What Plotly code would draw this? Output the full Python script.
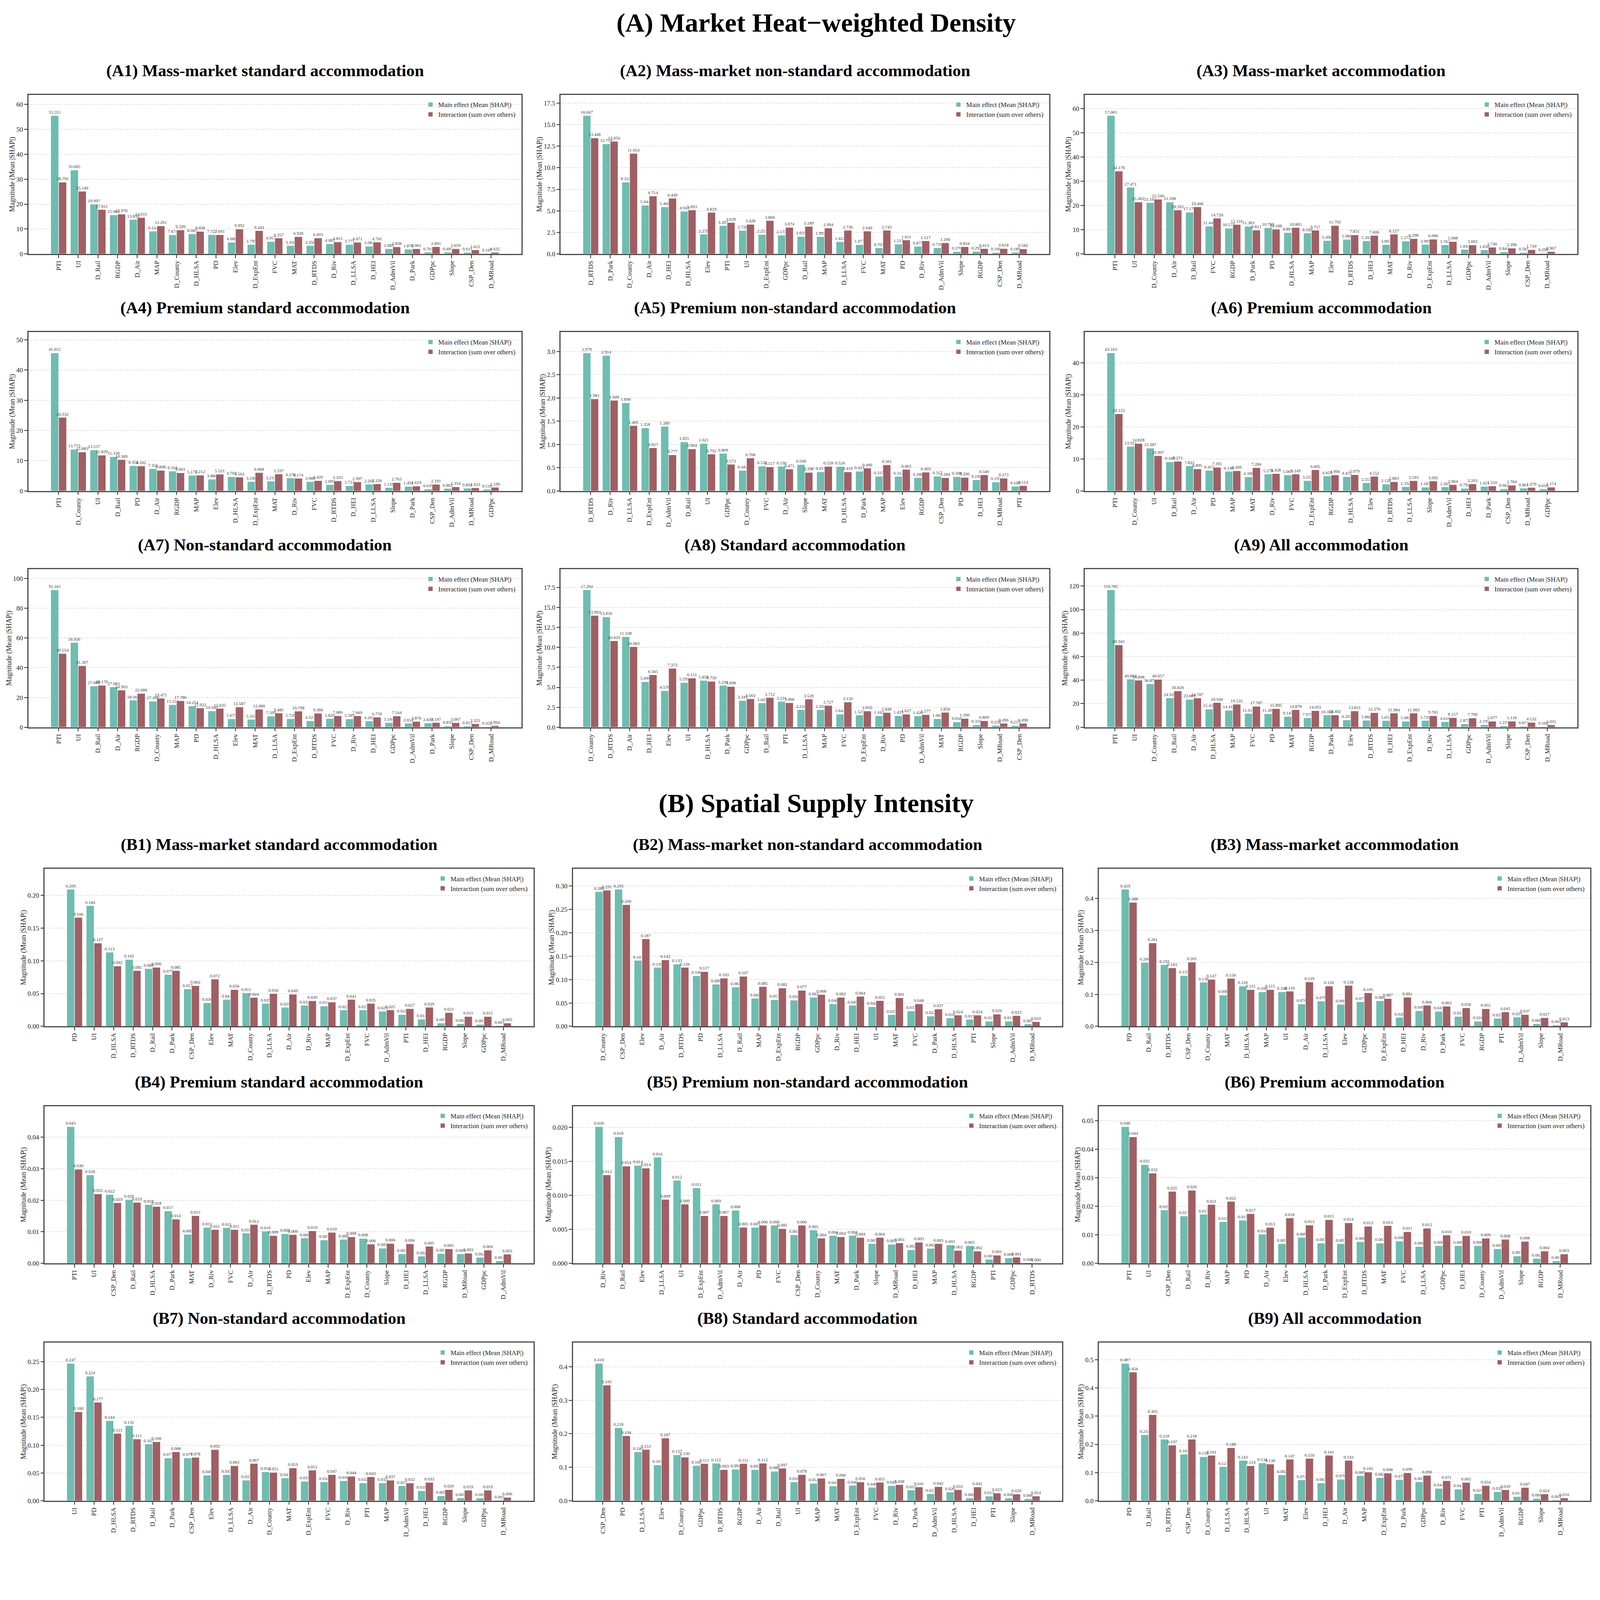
import plotly.graph_objects as go

# page geometry: the browser shows the page slightly scaled (device px = K * css px)
# and the body keeps its default 8px margin
# ---------------------------------------------------------------------------
K = 1.0603
BODY = 8
FW, FH = 4070, 3940
TEAL = '#6dbdb0'
RED = '#a05f63'
FONT = 'Liberation Serif'

def fx(px):
    return (px / K - BODY) / FW

def fy(px):
    return 1 - (px / K - BODY) / FH

def fs(px):
    return px / K

# (A) Market heat-weighted density
# --------------------------------
a1_features = ['PTI', 'UI', 'D_Rail', 'RGDP', 'D_Air', 'MAP', 'D_County', 'D_HLSA', 'PD', 'Elev', 'D_ExpEnt', 'FVC',
               'MAT', 'D_RTDS', 'D_Riv', 'D_LLSA', 'D_HEI', 'D_AdmVil', 'D_Park', 'GDPpc', 'Slope', 'CSP_Den', 'D_MRoad']
a1_main = [55.551, 33.665, 19.997, 15.662, 13.830, 9.134, 7.674, 8.065, 7.722, 4.688, 3.795, 4.957,
           3.356, 3.358, 4.081, 3.771, 3.082, 2.083, 1.876, 0.703, 0.695, 0.631, 0.167]
a1_inter = [28.791, 25.146, 17.811, 15.976, 14.615, 11.261, 9.599, 9.038, 7.691, 9.992, 9.343, 6.357,
            6.920, 6.403, 4.815, 4.671, 4.741, 2.838, 2.061, 2.891, 2.059, 1.621, 0.635]

a2_features = ['D_RTDS', 'D_Park', 'D_County', 'D_Air', 'D_HEI', 'D_HLSA', 'Elev', 'PTI', 'UI', 'D_ExpEnt', 'GDPpc',
               'D_Rail', 'MAP', 'D_LLSA', 'FVC', 'MAT', 'PD', 'D_Riv', 'D_AdmVil', 'Slope', 'RGDP', 'CSP_Den', 'D_MRoad']
a2_main = [16.047, 12.758, 8.324, 5.644, 5.460, 4.941, 2.278, 3.287, 2.726, 2.251, 2.173,
           2.025, 1.997, 1.422, 1.077, 0.701, 1.137, 0.877, 0.720, 0.270, 0.292, 0.168, 0.189]
a2_inter = [13.448, 13.056, 11.654, 6.714, 6.449, 5.093, 4.819, 3.639, 3.428, 3.866, 3.074,
            3.189, 2.994, 2.736, 2.646, 2.743, 1.611, 1.517, 1.290, 0.834, 0.613, 0.618, 0.582]

a3_features = ['PTI', 'UI', 'D_County', 'D_Air', 'D_Rail', 'FVC', 'RGDP', 'D_Park', 'PD', 'D_HLSA', 'MAP', 'Elev',
               'D_RTDS', 'D_HEI', 'MAT', 'D_Riv', 'D_ExpEnt', 'D_LLSA', 'GDPpc', 'D_AdmVil', 'Slope', 'CSP_Den', 'D_MRoad']
a3_main = [57.065, 27.471, 21.162, 21.398, 17.175, 11.444, 10.577, 11.383, 10.789, 8.801, 8.592, 5.496,
           5.988, 5.392, 3.863, 5.272, 3.909, 3.762, 1.847, 1.658, 0.844, 0.581, 0.290]
a3_inter = [34.170, 21.402, 22.546, 18.101, 19.406, 14.720, 12.116, 9.821, 10.188, 10.865, 9.757, 11.702,
            7.831, 7.606, 8.127, 6.298, 6.066, 5.088, 3.692, 2.746, 2.396, 1.749, 0.967]

a4_features = ['PTI', 'D_County', 'UI', 'D_Rail', 'PD', 'D_Air', 'RGDP', 'MAP', 'Elev', 'D_HLSA', 'D_ExpEnt', 'MAT',
               'D_Riv', 'FVC', 'D_RTDS', 'D_HEI', 'D_LLSA', 'Slope', 'D_Park', 'CSP_Den', 'D_AdmVil', 'D_MRoad', 'GDPpc']
a4_main = [45.655, 13.773, 13.557, 11.330, 8.354, 7.356, 6.564, 5.172, 3.880, 4.703, 3.108, 3.237,
           4.278, 3.086, 2.095, 1.724, 2.201, 1.118, 1.493, 0.639, 0.802, 0.892, 0.516]
a4_inter = [24.332, 12.883, 11.829, 10.369, 8.262, 6.808, 6.001, 5.212, 5.521, 4.563, 6.068, 5.597,
            4.174, 3.420, 3.333, 2.997, 2.326, 2.763, 1.619, 2.191, 1.354, 1.033, 1.199]

a5_features = ['D_RTDS', 'D_Riv', 'D_LLSA', 'D_ExpEnt', 'D_AdmVil', 'D_Rail', 'UI', 'GDPpc', 'D_County', 'FVC', 'D_Air',
               'Slope', 'MAT', 'D_HLSA', 'D_Park', 'MAP', 'Elev', 'RGDP', 'CSP_Den', 'PD', 'D_HEI', 'D_MRoad', 'PTI']
a5_main = [2.970, 2.914, 1.896, 1.358, 1.389, 1.055, 1.021, 0.809, 0.441, 0.535, 0.530,
           0.568, 0.411, 0.526, 0.424, 0.315, 0.312, 0.288, 0.317, 0.308, 0.240, 0.193, 0.100]
a5_inter = [1.981, 1.949, 1.405, 0.927, 0.777, 0.904, 0.792, 0.573, 0.708, 0.517, 0.471,
            0.398, 0.528, 0.410, 0.490, 0.561, 0.463, 0.403, 0.284, 0.290, 0.346, 0.273, 0.114]

a6_features = ['PTI', 'D_County', 'UI', 'D_Rail', 'D_Air', 'PD', 'MAP', 'MAT', 'D_Riv', 'FVC', 'D_ExpEnt', 'RGDP',
               'D_HLSA', 'Elev', 'D_RTDS', 'D_LLSA', 'Slope', 'D_AdmVil', 'D_HEI', 'D_Park', 'CSP_Den', 'D_MRoad', 'GDPpc']
a6_main = [43.163, 13.921, 13.387, 9.109, 7.822, 6.413, 6.140, 4.398, 5.278, 5.007, 3.233, 4.651,
           4.455, 2.557, 2.128, 1.332, 1.187, 1.263, 0.792, 1.421, 0.662, 0.861, 0.618]
a6_inter = [24.122, 14.828, 10.997, 9.271, 6.895, 7.391, 6.309, 7.284, 5.428, 5.249, 6.605, 4.990,
            5.079, 4.552, 2.883, 3.193, 3.095, 1.964, 2.203, 1.550, 1.784, 1.076, 1.174]

a7_features = ['PTI', 'UI', 'D_Rail', 'D_Air', 'RGDP', 'D_County', 'MAP', 'PD', 'D_HLSA', 'Elev', 'MAT', 'D_LLSA',
               'D_ExpEnt', 'D_RTDS', 'FVC', 'D_Riv', 'D_HEI', 'GDPpc', 'D_AdmVil', 'D_Park', 'Slope', 'CSP_Den', 'D_MRoad']
a7_main = [92.341, 56.926, 27.686, 27.083, 18.167, 17.498, 15.159, 14.254, 10.944, 5.673, 5.310, 7.509,
           5.726, 4.323, 5.820, 5.589, 4.202, 3.104, 2.654, 2.849, 0.850, 0.813, 0.352]
a7_inter = [49.554, 41.307, 28.170, 24.903, 22.686, 19.475, 17.786, 12.922, 12.635, 13.587, 12.080, 9.485,
            10.798, 9.386, 7.686, 7.669, 6.750, 7.544, 3.876, 3.147, 3.067, 2.321, 1.094]

a8_features = ['D_County', 'D_RTDS', 'D_Air', 'D_HEI', 'Elev', 'UI', 'D_HLSA', 'D_Park', 'GDPpc', 'D_Rail', 'PTI',
               'D_LLSA', 'MAP', 'FVC', 'D_ExpEnt', 'D_Riv', 'PD', 'D_AdmVil', 'MAT', 'RGDP', 'Slope', 'D_MRoad', 'CSP_Den']
a8_main = [17.204, 13.816, 11.338, 5.696, 4.578, 5.595, 5.858, 5.236, 3.343, 3.043, 3.231,
           2.210, 2.192, 1.642, 1.527, 1.442, 1.433, 1.420, 1.065, 0.658, 0.310, 0.228, 0.213]
a8_inter = [13.993, 10.819, 10.083, 6.565, 7.373, 6.151, 5.750, 5.098, 3.563, 3.712, 3.068,
            3.520, 2.727, 3.150, 2.033, 1.840, 1.627, 1.577, 1.856, 1.100, 0.809, 0.496, 0.490]

a9_features = ['PTI', 'UI', 'D_County', 'D_Rail', 'D_Air', 'D_HLSA', 'MAP', 'FVC', 'PD', 'MAT', 'RGDP', 'D_Park',
               'Elev', 'D_RTDS', 'D_HEI', 'D_ExpEnt', 'D_Riv', 'D_LLSA', 'GDPpc', 'D_AdmVil', 'Slope', 'CSP_Den', 'D_MRoad']
a9_main = [116.785, 40.862, 36.875, 24.921, 23.669, 15.428, 14.418, 11.617, 11.491, 9.145, 7.975, 10.358,
           6.203, 5.868, 5.653, 5.083, 5.720, 4.610, 2.872, 2.195, 1.237, 0.873, 0.562]
a9_inter = [69.941, 39.898, 40.657, 30.820, 24.787, 20.946, 19.535, 17.787, 15.805, 14.878, 14.055, 10.402,
            13.821, 12.376, 11.984, 11.983, 9.765, 8.157, 7.799, 5.077, 5.118, 4.132, 2.035]

# (B) Spatial supply intensity
# ----------------------------
b1_features = ['PD', 'UI', 'D_HLSA', 'D_RTDS', 'D_Rail', 'D_Park', 'CSP_Den', 'Elev', 'MAT', 'D_County', 'D_LLSA',
               'D_Air', 'D_Riv', 'MAP', 'D_ExpEnt', 'FVC', 'D_AdmVil', 'PTI', 'D_HEI', 'RGDP', 'Slope', 'GDPpc', 'D_MRoad']
b1_main = [0.209, 0.184, 0.113, 0.102, 0.088, 0.079, 0.057, 0.036, 0.041, 0.051, 0.035,
           0.029, 0.032, 0.031, 0.025, 0.025, 0.023, 0.018, 0.011, 0.005, 0.004, 0.003, 0.001]
b1_inter = [0.166, 0.127, 0.092, 0.085, 0.090, 0.085, 0.062, 0.072, 0.056, 0.044, 0.050,
            0.049, 0.039, 0.037, 0.041, 0.035, 0.025, 0.027, 0.029, 0.021, 0.015, 0.015, 0.005]

b2_features = ['D_County', 'CSP_Den', 'Elev', 'D_Air', 'D_RTDS', 'PD', 'D_LLSA', 'D_Rail', 'MAP', 'D_ExpEnt', 'RGDP',
               'GDPpc', 'D_Riv', 'D_HEI', 'UI', 'MAT', 'FVC', 'D_Park', 'D_HLSA', 'PTI', 'Slope', 'D_AdmVil', 'D_MRoad']
b2_main = [0.288, 0.293, 0.141, 0.126, 0.133, 0.108, 0.090, 0.084, 0.060, 0.057, 0.056,
           0.062, 0.048, 0.045, 0.042, 0.025, 0.033, 0.022, 0.018, 0.015, 0.011, 0.011, 0.005]
b2_inter = [0.291, 0.260, 0.187, 0.142, 0.126, 0.117, 0.103, 0.107, 0.085, 0.082, 0.077,
            0.068, 0.062, 0.064, 0.055, 0.061, 0.048, 0.037, 0.024, 0.024, 0.026, 0.023, 0.010]

b3_features = ['PD', 'D_Rail', 'D_RTDS', 'CSP_Den', 'D_County', 'MAT', 'D_HLSA', 'MAP', 'UI', 'D_Air', 'D_LLSA', 'Elev',
               'GDPpc', 'D_ExpEnt', 'D_HEI', 'D_Riv', 'D_Park', 'FVC', 'RGDP', 'PTI', 'D_AdmVil', 'Slope', 'D_MRoad']
b3_main = [0.429, 0.200, 0.193, 0.159, 0.138, 0.098, 0.126, 0.108, 0.108, 0.070, 0.079, 0.069,
           0.077, 0.080, 0.028, 0.049, 0.047, 0.031, 0.016, 0.025, 0.029, 0.008, 0.004]
b3_inter = [0.388, 0.261, 0.183, 0.201, 0.147, 0.150, 0.115, 0.115, 0.110, 0.139, 0.126, 0.128,
            0.105, 0.087, 0.091, 0.066, 0.063, 0.058, 0.055, 0.045, 0.037, 0.027, 0.013]

b4_features = ['PTI', 'UI', 'CSP_Den', 'D_Rail', 'D_HLSA', 'D_Park', 'MAT', 'D_Riv', 'FVC', 'D_Air', 'D_RTDS', 'PD',
               'Elev', 'MAP', 'D_ExpEnt', 'D_County', 'Slope', 'D_HEI', 'D_LLSA', 'RGDP', 'D_MRoad', 'GDPpc', 'D_AdmVil']
b4_main = [0.0433, 0.0280, 0.0218, 0.0202, 0.0186, 0.0166, 0.0092, 0.0114, 0.0113, 0.0096, 0.0102, 0.0094,
           0.0080, 0.0074, 0.0076, 0.0079, 0.0048, 0.0030, 0.0023, 0.0031, 0.0030, 0.0019, 0.0008]
b4_inter = [0.0298, 0.0220, 0.0192, 0.0193, 0.0180, 0.0140, 0.0151, 0.0107, 0.0107, 0.0123, 0.0088, 0.0091,
            0.0103, 0.0098, 0.0084, 0.0061, 0.0063, 0.0062, 0.0054, 0.0046, 0.0032, 0.0042, 0.0029]

b5_features = ['D_Riv', 'D_Rail', 'Elev', 'D_LLSA', 'UI', 'D_ExpEnt', 'D_AdmVil', 'D_Air', 'PD', 'FVC', 'CSP_Den',
               'D_County', 'MAT', 'D_Park', 'Slope', 'D_MRoad', 'D_HEI', 'MAP', 'D_HLSA', 'RGDP', 'PTI', 'GDPpc', 'D_RTDS']
b5_main = [0.0201, 0.0186, 0.0144, 0.0156, 0.0122, 0.0111, 0.0087, 0.0078, 0.0053, 0.0056, 0.0042,
           0.0049, 0.0041, 0.0041, 0.0029, 0.0028, 0.0020, 0.0022, 0.0027, 0.0026, 0.0006, 0.0008, 0.0001]
b5_inter = [0.0130, 0.0143, 0.0140, 0.0094, 0.0087, 0.0070, 0.0070, 0.0053, 0.0056, 0.0051, 0.0056,
            0.0037, 0.0039, 0.0038, 0.0038, 0.0030, 0.0031, 0.0029, 0.0019, 0.0018, 0.0012, 0.0009, 0.0000]

b6_features = ['PTI', 'UI', 'CSP_Den', 'D_Rail', 'D_Riv', 'MAP', 'PD', 'D_Air', 'Elev', 'D_HLSA', 'D_Park', 'D_ExpEnt',
               'D_RTDS', 'MAT', 'FVC', 'D_LLSA', 'GDPpc', 'D_HEI', 'D_County', 'D_AdmVil', 'Slope', 'RGDP', 'D_MRoad']
b6_main = [0.0479, 0.0346, 0.0187, 0.0166, 0.0172, 0.0146, 0.0151, 0.0102, 0.0069, 0.0091, 0.0071, 0.0069,
           0.0076, 0.0071, 0.0078, 0.0059, 0.0062, 0.0062, 0.0062, 0.0051, 0.0026, 0.0017, 0.0009]
b6_inter = [0.0443, 0.0316, 0.0252, 0.0256, 0.0206, 0.0217, 0.0174, 0.0126, 0.0159, 0.0134, 0.0153, 0.0142,
            0.0130, 0.0132, 0.0111, 0.0123, 0.0099, 0.0097, 0.0088, 0.0084, 0.0077, 0.0043, 0.0033]

b7_features = ['UI', 'PD', 'D_HLSA', 'D_RTDS', 'D_Rail', 'D_Park', 'CSP_Den', 'Elev', 'D_LLSA', 'D_Air', 'D_County',
               'MAT', 'D_ExpEnt', 'FVC', 'D_Riv', 'PTI', 'MAP', 'D_AdmVil', 'D_HEI', 'RGDP', 'Slope', 'GDPpc', 'D_MRoad']
b7_main = [0.247, 0.224, 0.144, 0.135, 0.102, 0.077, 0.077, 0.046, 0.047, 0.037, 0.052,
           0.041, 0.035, 0.034, 0.036, 0.032, 0.032, 0.027, 0.018, 0.009, 0.005, 0.005, 0.001]
b7_inter = [0.160, 0.177, 0.121, 0.111, 0.106, 0.088, 0.078, 0.092, 0.063, 0.067, 0.051,
            0.059, 0.055, 0.047, 0.044, 0.043, 0.037, 0.032, 0.033, 0.020, 0.019, 0.019, 0.006]

b8_features = ['CSP_Den', 'PD', 'D_LLSA', 'Elev', 'D_County', 'GDPpc', 'D_RTDS', 'RGDP', 'D_Air', 'D_Rail', 'UI', 'MAP',
               'MAT', 'D_ExpEnt', 'FVC', 'D_Riv', 'D_Park', 'D_AdmVil', 'D_HLSA', 'D_HEI', 'PTI', 'Slope', 'D_MRoad']
b8_main = [0.410, 0.218, 0.146, 0.107, 0.137, 0.105, 0.112, 0.094, 0.093, 0.088, 0.056, 0.052,
           0.044, 0.046, 0.040, 0.045, 0.032, 0.021, 0.026, 0.008, 0.014, 0.008, 0.006]
b8_inter = [0.345, 0.194, 0.153, 0.187, 0.130, 0.111, 0.093, 0.111, 0.112, 0.097, 0.078, 0.067,
            0.066, 0.056, 0.055, 0.048, 0.041, 0.042, 0.033, 0.041, 0.023, 0.020, 0.014]

b9_features = ['PD', 'D_Rail', 'D_RTDS', 'CSP_Den', 'D_County', 'D_LLSA', 'D_HLSA', 'UI', 'MAT', 'Elev', 'D_HEI', 'D_Air',
               'MAP', 'D_ExpEnt', 'D_Park', 'GDPpc', 'D_Riv', 'FVC', 'PTI', 'D_AdmVil', 'RGDP', 'Slope', 'D_MRoad']
b9_main = [0.487, 0.234, 0.218, 0.165, 0.156, 0.121, 0.143, 0.134, 0.092, 0.074, 0.063, 0.076,
           0.089, 0.082, 0.075, 0.067, 0.044, 0.041, 0.025, 0.032, 0.015, 0.008, 0.003]
b9_inter = [0.456, 0.305, 0.197, 0.218, 0.161, 0.188, 0.124, 0.130, 0.147, 0.150, 0.161, 0.143,
            0.102, 0.098, 0.099, 0.090, 0.071, 0.065, 0.054, 0.039, 0.047, 0.024, 0.010]

# panel list: title, data, y tick step, y tick format
# ---------------------------------------------------
panels = [
    ('(A1) Mass-market standard accommodation', a1_features, a1_main, a1_inter, 10, '.0f'),
    ('(A2) Mass-market non-standard accommodation', a2_features, a2_main, a2_inter, 2.5, '.1f'),
    ('(A3) Mass-market accommodation', a3_features, a3_main, a3_inter, 10, '.0f'),
    ('(A4) Premium standard accommodation', a4_features, a4_main, a4_inter, 10, '.0f'),
    ('(A5) Premium non-standard accommodation', a5_features, a5_main, a5_inter, 0.5, '.1f'),
    ('(A6) Premium accommodation', a6_features, a6_main, a6_inter, 10, '.0f'),
    ('(A7) Non-standard accommodation', a7_features, a7_main, a7_inter, 20, '.0f'),
    ('(A8) Standard accommodation', a8_features, a8_main, a8_inter, 2.5, '.1f'),
    ('(A9) All accommodation', a9_features, a9_main, a9_inter, 20, '.0f'),
    ('(B1) Mass-market standard accommodation', b1_features, b1_main, b1_inter, 0.05, '.2f'),
    ('(B2) Mass-market non-standard accommodation', b2_features, b2_main, b2_inter, 0.05, '.2f'),
    ('(B3) Mass-market accommodation', b3_features, b3_main, b3_inter, 0.1, '.1f'),
    ('(B4) Premium standard accommodation', b4_features, b4_main, b4_inter, 0.01, '.2f'),
    ('(B5) Premium non-standard accommodation', b5_features, b5_main, b5_inter, 0.005, '.3f'),
    ('(B6) Premium accommodation', b6_features, b6_main, b6_inter, 0.01, '.2f'),
    ('(B7) Non-standard accommodation', b7_features, b7_main, b7_inter, 0.05, '.2f'),
    ('(B8) Standard accommodation', b8_features, b8_main, b8_inter, 0.1, '.1f'),
    ('(B9) All accommodation', b9_features, b9_main, b9_inter, 0.1, '.1f'),
]

# plot-area boxes in screen pixels (top, bottom) / (left, right)
A_rows = [(258, 691), (904, 1336), (1549, 1979)]
B_rows = [(2364, 2793), (3010, 3438), (3654, 4084)]
A_cols = [(77, 1415), (1522, 2848), (2944, 4282)]
B_cols = [(121, 1448), (1555, 2883), (2983, 4317)]

fig = go.Figure()
layout = {}
annotations = []

for i, (title, feats, main, inter, step, fmt) in enumerate(panels):
    n = i + 1
    sfx = '' if n == 1 else str(n)
    leg = 'legend' if n == 1 else 'legend%d' % n
    r, c = divmod(i % 9, 3)
    top, bot = (A_rows if i < 9 else B_rows)[r]
    left, right = (A_cols if i < 9 else B_cols)[c]

    for name, vals, col, grp in [('Main effect (Mean |SHAP|)', main, TEAL, 'm'),
                                 ('Interaction (sum over others)', inter, RED, 'i')]:
        fig.add_trace(go.Bar(
            x=feats, y=vals, name=name, offsetgroup=grp,
            marker=dict(color=col, line=dict(color='white', width=1)),
            texttemplate='%{y:.3f}', textposition='outside', textangle=0,
            constraintext='none', cliponaxis=False,
            textfont=dict(size=fs(12), color='#333333', family=FONT),
            xaxis='x' + sfx, yaxis='y' + sfx, legend=leg, showlegend=True))

    ymax = 1.15 * max(max(main), max(inter))
    layout['xaxis' + sfx] = dict(
        domain=[fx(left), fx(right)], anchor='y' + sfx, type='category',
        categoryorder='array', categoryarray=feats,
        range=[-1.54, len(feats) - 1 + 1.54],
        tickangle=-90, ticks='outside', ticklen=fs(8), tickwidth=2, tickcolor='#333333',
        showline=True, linewidth=fs(3), linecolor='#4a4a4a', mirror=True, showgrid=False,
        tickfont=dict(size=fs(18), family=FONT, color='#222222'))
    layout['yaxis' + sfx] = dict(
        domain=[fy(bot), fy(top)], anchor='x' + sfx,
        range=[0, ymax], tick0=0, dtick=step, tickformat=fmt,
        ticks='outside', ticklen=fs(8), tickwidth=2, tickcolor='#333333',
        showline=True, linewidth=fs(3), linecolor='#4a4a4a', mirror=True,
        showgrid=True, gridcolor='#dadada', griddash='dot', gridwidth=1.5, zeroline=False,
        tickfont=dict(size=fs(18), family=FONT, color='#222222'),
        title=dict(text='Magnitude (Mean |SHAP|)', standoff=0,
                   font=dict(size=fs(19), family=FONT, color='#222222')))
    layout[leg] = dict(
        x=fx(right - 10), y=fy(top + 8), xanchor='right', yanchor='top',
        bgcolor='rgba(0,0,0,0)', tracegroupgap=0,
        font=dict(size=fs(18), family=FONT, color='#222222'))

    # panel titles sit a little left of the plot-area centre
    annotations.append(dict(
        text='<b>%s</b>' % title, x=fx((left + right) / 2 - 27), y=fy(top - 66),
        xref='paper', yref='paper', xanchor='center', yanchor='middle', showarrow=False,
        font=dict(size=43, family=FONT, color='black')))

# section headings
for txt, ypx in [('(A) Market Heat\u2212weighted Density', 62), ('(B) Spatial Supply Intensity', 2185)]:
    annotations.append(dict(
        text='<b>%s</b>' % txt, x=fx(2215), y=fy(ypx), xref='paper', yref='paper',
        xanchor='center', yanchor='middle', showarrow=False,
        font=dict(size=68, family=FONT, color='black')))

fig.update_layout(
    width=FW, height=FH, margin=dict(l=0, r=0, t=0, b=0),
    paper_bgcolor='white', plot_bgcolor='white',
    barmode='group', bargap=0.2, bargroupgap=0,
    font=dict(family=FONT, color='#222222'),
    annotations=annotations, **layout)

fig.write_html('out.html')
